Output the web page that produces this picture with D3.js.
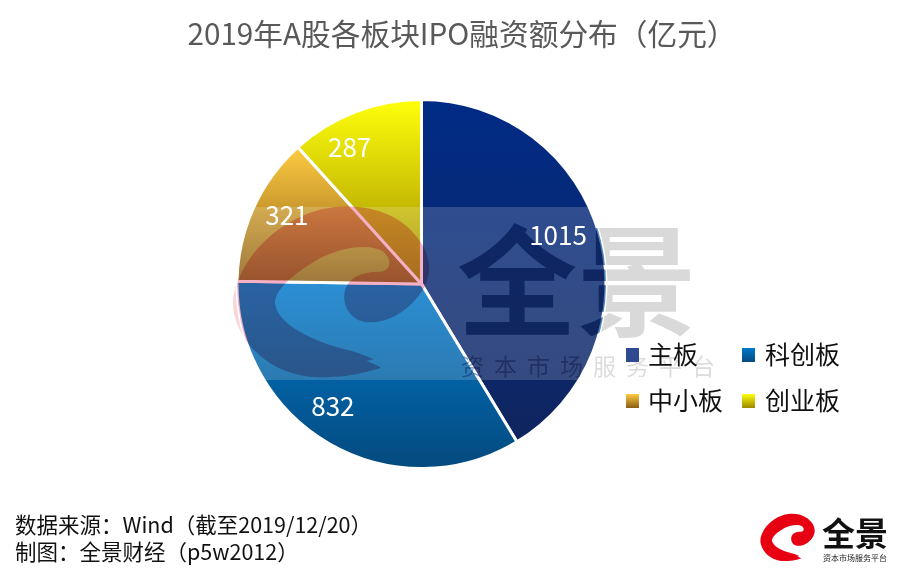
<!DOCTYPE html>
<html><head><meta charset="utf-8">
<script src="https://cdn.jsdelivr.net/npm/d3@7/dist/d3.min.js"></script>
<style>
html,body{margin:0;padding:0;background:#fff}
svg{display:block}
text{font-family:"Noto Sans CJK SC","Noto Sans",sans-serif}
</style></head><body>
<svg id="c" width="924" height="586"></svg>
<script>
const categories = ["主板","科创板","中小板","创业板"];
const values = [1015,832,321,287];
const gradientTop = ["#002b85","#0079cc","#ffcc42","#ffff0a"];
const gradientBottom = ["#10255f","#044a7e","#8a5c14","#9c8800"];
const title = "2019年A股各板块IPO融资额分布（亿元）";
const sourceLines = ["数据来源：Wind（截至2019/12/20）","制图：全景财经（p5w2012）"];
const labelNudge = [[-8,-8],[-14,-7],[2,-6],[-18,4]];

const cx=421.5, cy=284, R=184.5;
const swirl="M480,835 C440,845 380,868 270,860 C170,850 90,790 55,710 C25,640 40,590 80,520 C130,440 230,365 340,352 C450,340 540,375 590,440 C640,500 640,570 590,625 C545,680 480,705 430,695 C385,685 365,640 375,600 C385,565 420,545 480,545 C510,545 520,510 490,485 C450,460 370,470 300,505 C230,545 165,595 165,640 C170,690 240,735 330,765 C370,778 410,785 430,795 L462,808 L440,812 L482,832 Z";

const svg=d3.select("#c");
const defs=svg.append("defs");
categories.forEach((c,i)=>{
  const g=defs.append("linearGradient").attr("id","g"+i).attr("x1",0).attr("y1",0).attr("x2",0).attr("y2",1);
  g.append("stop").attr("offset","0").attr("stop-color",gradientTop[i]);
  g.append("stop").attr("offset","1").attr("stop-color",gradientBottom[i]);
  const l=defs.append("linearGradient").attr("id","lg"+i).attr("x1",0).attr("y1",0).attr("x2",0).attr("y2",1);
  l.append("stop").attr("offset","0").attr("stop-color",i==0?"#2f4a90":gradientTop[i]);
  l.append("stop").attr("offset","1").attr("stop-color",i==0?"#2f4a90":gradientBottom[i]);
});
defs.append("clipPath").attr("id","pc").append("circle").attr("cx",cx).attr("cy",cy).attr("r",R);
const arcs=d3.pie().sort(null).value(d=>d)(values);
const arc=d3.arc().innerRadius(0).outerRadius(R);
const labelArc=d3.arc().innerRadius(150).outerRadius(150);

svg.append("text").attr("x",462).attr("y",45).attr("text-anchor","middle")
  .attr("font-size",29.7).attr("fill","#595959").text(title);

function marks(p,fill,sub){
  p.append("text").attr("x",457).attr("y",327).attr("font-size",120).attr("font-weight",700)
    .attr("fill",fill).text("全景");
  p.append("text").attr("x",461).attr("y",375).attr("font-size",23).attr("fill",sub)
    .attr("letter-spacing",10).text("资本市场服务平台");
}
marks(svg.append("g"),"#d9d9d9","#dcdcdc");
svg.append("path").attr("d",swirl).attr("transform","translate(220,90) scale(0.3333)").attr("fill","#fbd5d5");

const pie=svg.append("g").attr("transform",`translate(${cx},${cy})`);
pie.selectAll("path").data(arcs).join("path").attr("d",arc)
  .attr("fill",(d,i)=>`url(#g${i})`).attr("stroke","#fff").attr("stroke-width",3);

svg.append("rect").attr("clip-path","url(#pc)").attr("x",0).attr("y",207).attr("width",924).attr("height",173).attr("fill","#fff").attr("opacity",0.17);
const swirlLayer=svg.append("g").attr("clip-path","url(#pc)").style("mix-blend-mode","multiply");
swirlLayer.append("path").attr("d",swirl).attr("transform","translate(220,90) scale(0.3333)").attr("fill","#f4b0c4");
const markLayer=svg.append("g").attr("clip-path","url(#pc)").style("mix-blend-mode","multiply");
marks(markLayer,"#4c80b7","#98a8c8");

svg.append("g").selectAll("text").data(arcs).join("text")
  .attr("transform",(d,i)=>{const c=labelArc.centroid(d);return `translate(${cx+c[0]+labelNudge[i][0]},${cy+c[1]+labelNudge[i][1]})`;})
  .attr("text-anchor","middle").attr("dy","0.36em").attr("font-size",26).attr("fill","#fff")
  .text(d=>d.data);

const col=d3.scalePoint().domain([0,1]).range([626,742]);
const row=d3.scalePoint().domain([0,1]).range([348,394]);
const leg=svg.append("g").selectAll("g").data(categories).join("g")
  .attr("transform",(d,i)=>`translate(${col(i%2)},${row(Math.floor(i/2))})`);
leg.append("rect").attr("width",13).attr("height",14).attr("fill",(d,i)=>`url(#lg${i})`);
leg.append("text").attr("x",(d,i)=>i%2?23:22).attr("y",16).attr("font-size",25).attr("fill","#111").text(d=>d);

sourceLines.forEach((t,i)=>svg.append("text").attr("x",15).attr("y",533+i*27).attr("font-size",21.5).attr("fill","#111").text(t));

svg.append("path").attr("d",swirl).attr("transform","translate(740,500) scale(0.3333) translate(60,40) scale(0.277) translate(-35,-345)").attr("fill","#e60012");
svg.append("text").attr("x",822).attr("y",546).attr("font-size",33).attr("font-weight",700).attr("fill","#111").attr("textLength",66).text("全景");
svg.append("text").attr("x",823).attr("y",561).attr("font-size",8).attr("fill","#222").attr("textLength",64).text("资本市场服务平台");
</script>
</body></html>
